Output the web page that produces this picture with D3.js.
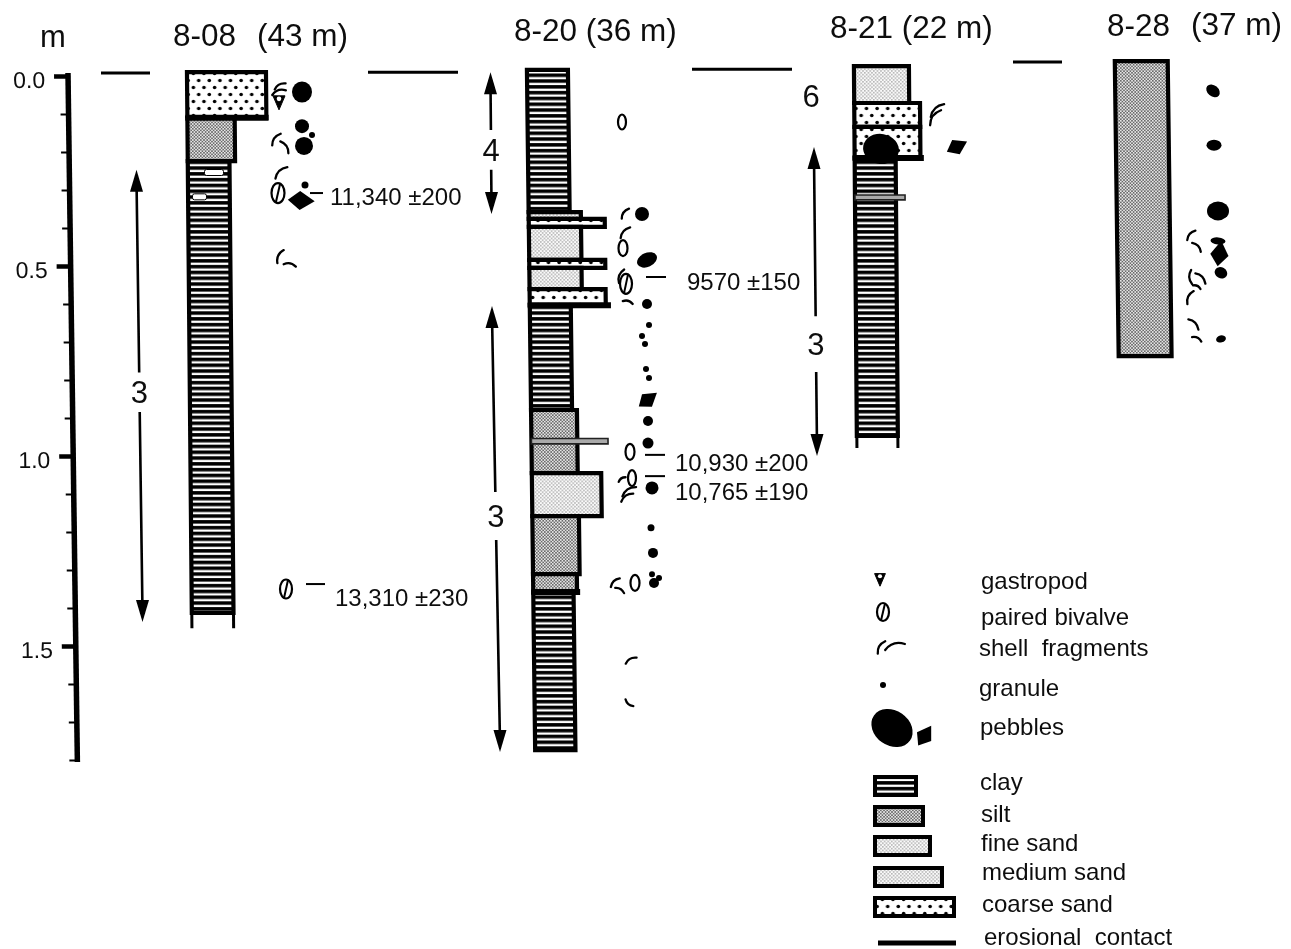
<!DOCTYPE html>
<html>
<head>
<meta charset="utf-8">
<script src="https://d3js.org/d3.v7.min.js"></script>
<style>
  html, body { margin: 0; padding: 0; background: #fff; }
  svg { display: block; }
  text { font-family: "Liberation Sans", Arial, sans-serif; fill: #111; white-space: pre; }
</style>
</head>
<body>
<svg id="chart" width="1291" height="949"></svg>
<script>
// depth ticks
const minorTicks = d3.range(0, 19).map(d => d / 10);
const majorTicks = [0, 0.5, 1, 1.5];

const columns = ["8-08", "8-20", "8-21", "8-28"];
const columnTitles = ["8-08", "(43 m)", "8-20 (36 m)", "8-21 (22 m)", "8-28", "(37 m)"];

// [column, top depth, bottom depth, lithology, grain class]
const layers = [
  ["8-08", -0.01, 0.11, "coarse", 5],
  ["8-08", 0.11, 0.224, "silt", 1.9],
  ["8-08", 0.224, 1.413, "clay", 1.1],
  ["8-20", -0.016, 0.358, "clay", 1],
  ["8-20", 0.358, 0.376, "fine", 2.6],
  ["8-20", 0.376, 0.397, "coarse", 4.75],
  ["8-20", 0.397, 0.484, "medium", 2.6],
  ["8-20", 0.484, 0.505, "coarse", 4.75],
  ["8-20", 0.505, 0.561, "fine", 2.6],
  ["8-20", 0.561, 0.603, "coarse", 4.75],
  ["8-20", 0.603, 0.879, "clay", 1],
  ["8-20", 0.879, 1.045, "silt", 1.7],
  ["8-20", 1.045, 1.158, "medium", 4.2],
  ["8-20", 1.158, 1.311, "silt", 1.8],
  ["8-20", 1.311, 1.358, "silt", 1.4],
  ["8-20", 1.358, 1.774, "clay", 0.9],
  ["8-21", -0.026, 0.071, "fine", 3],
  ["8-21", 0.071, 0.134, "coarse", 3.9],
  ["8-21", 0.134, 0.216, "coarse", 3.9],
  ["8-21", 0.216, 0.947, "clay", 1],
  ["8-28", -0.039, 0.737, "silt", 2.7]
];
const thinBands = [
  ["8-20", 0.954, 0.968, 4.8],
  ["8-21", 0.313, 0.326, 2.3]
];
// unsampled base of the core: [column, top, bottom, grain]
const openBases = [
  ["8-08", 1.413, 1.453, 1.1],
  ["8-21", 0.947, 0.979, 1]
];
// [column, depth, grain]
const erosions = [
  ["8-08", 0.11, 5.1],
  ["8-20", 0.603, 5.1],
  ["8-20", 1.358, 1.7],
  ["8-21", 0.216, 4.1]
];
// [column, depth, lateral, lateral length]
const whitePatches = [
  ["8-08", 0.254, 1.75, 1.9],
  ["8-08", 0.318, 0.55, 1.4]
];

// ground surface dashes [depth, lateral start, lateral end]
const surfaces = [
  [-0.008, 10.1, 15.0],
  [-0.01, 36.8, 45.8],
  [-0.018, 69.2, 79.2],
  [-0.037, 101.3, 106.2]
];

// [label, top, bottom, gap top, gap bottom, lateral at top, lateral at bottom]
const arrows = [
  ["3", 0.247, 1.437, 0.78, 0.884, 13.65, 14.25],
  ["4", -0.01, 0.363, 0.142, 0.247, 49.05, 49.15],
  ["3", 0.605, 1.779, 1.095, 1.221, 49.2, 50.0],
  ["3", 0.187, 1.0, 0.632, 0.779, 81.4, 81.7]
];
const lonelyLabels = [["6", 0.053, 81.1]];

// [age, dash depth, dash start, dash end, label depth, label lateral]
const dates = [
  ["11,340 ±200", 0.308, 31.0, 32.3, 0.318, 33.0],
  ["9570 ±150", 0.529, 64.6, 66.6, 0.54, 68.7],
  ["10,930 ±200", 0.997, 64.5, 66.5, 1.018, 67.5],
  ["10,765 ±190", 1.053, 64.5, 66.5, 1.092, 67.5],
  ["13,310 ±230", 1.337, 30.6, 32.5, 1.372, 33.5]
];

// [column, depth, lateral, rx, ry, rotation]
const roundPebbles = [
  ["8-08", 0.042, 11.5, 1.0, 1.05, 0],
  ["8-08", 0.132, 11.5, 0.7, 0.7, 0],
  ["8-08", 0.184, 11.7, 0.9, 0.9, 0],
  ["8-20", 0.363, 11.5, 0.7, 0.7, 0],
  ["8-20", 0.484, 12.0, 1.05, 0.7, -25],
  ["8-20", 0.908, 12.1, 0.5, 0.5, 0],
  ["8-20", 0.966, 12.1, 0.55, 0.55, 0],
  ["8-20", 1.084, 12.5, 0.65, 0.65, 0],
  ["8-20", 1.255, 12.6, 0.5, 0.5, 0],
  ["8-20", 1.334, 12.7, 0.5, 0.5, 0],
  ["8-21", 0.192, 2.7, 1.8, 1.5, 10],
  ["8-28", 0.039, 9.8, 0.75, 0.55, 40],
  ["8-28", 0.182, 9.9, 0.75, 0.55, 0],
  ["8-28", 0.355, 10.3, 1.1, 0.95, 0],
  ["8-28", 0.434, 10.3, 0.75, 0.35, 5],
  ["8-28", 0.518, 10.6, 0.65, 0.55, 30],
  ["8-28", 0.692, 10.6, 0.5, 0.35, -15]
];
// [column, depth, lateral, size, rotation]
const angularPebbles = [
  ["8-08", 0.329, 11.4, 1.25, 25],
  ["8-20", 0.853, 12.1, 1.05, -15],
  ["8-21", 0.187, 10.3, 1.05, -5],
  ["8-28", 0.468, 10.5, 1.2, -60]
];
// [column, depth, lateral, radius]
const granules = [
  ["8-08", 0.155, 12.5, 0.3],
  ["8-08", 0.287, 11.8, 0.35],
  ["8-20", 0.6, 12.0, 0.5],
  ["8-20", 0.655, 12.2, 0.3],
  ["8-20", 0.684, 11.5, 0.3],
  ["8-20", 0.705, 11.8, 0.3],
  ["8-20", 0.771, 11.9, 0.3],
  ["8-20", 0.795, 12.2, 0.3],
  ["8-20", 1.189, 12.4, 0.35],
  ["8-20", 1.311, 12.5, 0.3],
  ["8-20", 1.321, 13.2, 0.3]
];
// [column, depth, lateral, half length, rotation]
const shellFragments = [
  ["8-08", 0.026, 9.3, 0.6, -15],
  ["8-08", 0.042, 9.2, 0.7, -5],
  ["8-08", 0.166, 8.9, 0.7, -40],
  ["8-08", 0.187, 9.8, 0.7, 70],
  ["8-08", 0.253, 9.4, 0.8, -30],
  ["8-08", 0.474, 9.3, 0.7, -50],
  ["8-08", 0.497, 10.3, 0.6, 25],
  ["8-20", 0.361, 9.8, 0.6, -40],
  ["8-20", 0.411, 9.8, 0.7, -35],
  ["8-20", 0.526, 9.4, 0.7, -55],
  ["8-20", 0.595, 10.1, 0.5, 30],
  ["8-20", 1.061, 9.5, 0.4, -20],
  ["8-20", 1.092, 10.2, 0.8, -20],
  ["8-20", 1.108, 10.0, 0.7, -20],
  ["8-20", 1.332, 8.8, 0.6, -30],
  ["8-20", 1.353, 9.3, 0.5, 45],
  ["8-20", 1.537, 10.4, 0.6, -15],
  ["8-20", 1.65, 10.2, 0.5, -125],
  ["8-21", 0.089, 8.3, 0.9, -30],
  ["8-21", 0.108, 8.1, 0.9, -40],
  ["8-28", 0.418, 7.6, 0.6, -35],
  ["8-28", 0.45, 8.2, 0.6, 60],
  ["8-28", 0.529, 7.6, 0.7, -80],
  ["8-28", 0.532, 8.6, 0.7, 60],
  ["8-28", 0.555, 8.2, 0.4, 40],
  ["8-28", 0.582, 7.5, 0.7, -50],
  ["8-28", 0.653, 7.9, 0.7, 60],
  ["8-28", 0.692, 8.2, 0.5, 40]
];
// [column, depth, lateral, rx, ry]
const pairedBivalves = [
  ["8-08", 0.308, 9.1, 0.65, 1.0],
  ["8-08", 1.35, 9.9, 0.6, 0.95],
  ["8-20", 0.547, 9.9, 0.6, 1.0]
];
const singleValves = [
  ["8-20", 0.121, 9.5, 0.4, 0.75],
  ["8-20", 0.453, 9.6, 0.45, 0.8],
  ["8-20", 0.989, 10.3, 0.45, 0.8],
  ["8-20", 1.058, 10.5, 0.4, 0.8],
  ["8-20", 1.334, 10.8, 0.45, 0.8]
];
const gastropods = [["8-08", 0.068, 9.2, 1]];

const fossilLabels = ["gastropod", "paired bivalve", "shell  fragments", "granule", "pebbles"];
const lithologyLabels = ["clay", "silt", "fine sand", "medium sand", "coarse sand"];
const lithologyKeys = ["clay", "silt", "fine", "medium", "coarse"];
const lithologyGrains = [1, 2, 3, 4, 5];
const erosionLabel = "erosional  contact";

// ---- scales
const y = d3.scaleLinear().domain([0, 1.5]).range([76, 646]);
const colX = d3.scaleOrdinal().domain(columns).range([187, 527, 854, 1115]);
const colTilt = d3.scaleOrdinal().domain(columns).range([3.4, 4.6, 3.0, 5.0]);
const grainWidth = d3.scaleLinear().domain([1, 2, 3, 4, 5]).range([41, 48, 55, 67, 79]);
const lateral = d3.scaleLinear().domain([0, 10]).range([0, 100]);
const clast = d3.scaleLinear().domain([0, 1]).range([0, 10]);

const svg = d3.select("#chart");
const defs = svg.append("defs");

defs.append("filter").attr("id", "scan").attr("x", 0).attr("y", 0).attr("width", 1).attr("height", 1)
  .attr("filterUnits", "objectBoundingBox")
  .append("feGaussianBlur").attr("stdDeviation", 0.6);

// clay
const pClay = defs.append("pattern").attr("id", "clay").attr("patternUnits", "userSpaceOnUse")
  .attr("width", 10).attr("height", 5.8);
pClay.append("rect").attr("width", 10).attr("height", 5.8).attr("fill", "#000");
pClay.append("rect").attr("y", 1.6).attr("width", 10).attr("height", 2.3).attr("fill", "#fff");

// silt
const pSilt = defs.append("pattern").attr("id", "silt").attr("patternUnits", "userSpaceOnUse")
  .attr("width", 3.2).attr("height", 3.2);
pSilt.append("rect").attr("width", 3.2).attr("height", 3.2).attr("fill", "#e6e6e6");
pSilt.append("rect").attr("width", 1.6).attr("height", 1.6).attr("fill", "#6a6a6a");
pSilt.append("rect").attr("x", 1.6).attr("y", 1.6).attr("width", 1.6).attr("height", 1.6).attr("fill", "#6a6a6a");

// fine and medium sand
["fine", "medium"].forEach(id => {
  const p = defs.append("pattern").attr("id", id).attr("patternUnits", "userSpaceOnUse")
    .attr("width", 3.6).attr("height", 3.6);
  p.append("rect").attr("width", 3.6).attr("height", 3.6).attr("fill", "#fafafa");
  p.append("rect").attr("width", 1.6).attr("height", 1.6).attr("fill", "#b4b4b4");
  p.append("rect").attr("x", 1.8).attr("y", 1.8).attr("width", 1.6).attr("height", 1.6).attr("fill", "#b4b4b4");
});

// coarse sand
const pCoarse = defs.append("pattern").attr("id", "coarse").attr("patternUnits", "userSpaceOnUse")
  .attr("width", 10.6).attr("height", 14);
pCoarse.append("rect").attr("width", 10.6).attr("height", 14).attr("fill", "#fff");
pCoarse.append("circle").attr("cx", 2.6).attr("cy", 3.5).attr("r", 1.8).attr("fill", "#000");
pCoarse.append("circle").attr("cx", 7.9).attr("cy", 10.5).attr("r", 1.8).attr("fill", "#000");

const root = svg.append("g").attr("filter", "url(#scan)");
root.append("rect").attr("width", 1291).attr("height", 949).attr("fill", "#fff");

const line = d3.line();
const leftAt = (col, d) => colX(col) + colTilt(col) * d;

function block(col, top, bottom, grain) {
  const w = grainWidth(grain);
  return line([
    [leftAt(col, top), y(top)],
    [leftAt(col, top) + w, y(top)],
    [leftAt(col, bottom) + w, y(bottom)],
    [leftAt(col, bottom), y(bottom)]
  ]) + "Z";
}

// ---- depth axis, leaning like the scanned original
const axis = d3.axisLeft(y).tickValues(minorTicks).tickSizeOuter(0)
  .tickFormat(d => majorTicks.includes(d) ? d3.format(".1f")(d) : "");
const axisG = root.append("g")
  .attr("transform", "translate(67,0) skewX(0.78)")
  .call(axis);
axisG.select(".domain").remove();
axisG.append("line")
  .attr("x1", 0).attr("x2", 0)
  .attr("y1", y(0) - 3).attr("y2", y(1.8) + 2)
  .attr("stroke", "#000").attr("stroke-width", 5.5);
axisG.selectAll(".tick line")
  .attr("stroke", "#000")
  .attr("x2", d => majorTicks.includes(d) ? -14 : -8)
  .attr("stroke-width", d => majorTicks.includes(d) ? 4.5 : 2);
axisG.selectAll(".tick text")
  .attr("x", -23)
  .attr("dy", "0.5em")
  .attr("font-size", 23)
  .style("font-family", '"Liberation Sans", Arial, sans-serif');

// ---- titles
const titleX = d3.scaleOrdinal().domain(columnTitles).range([173, 257, 514, 830, 1107, 1191]);
const titleY = d3.scaleOrdinal().domain(columnTitles).range([46, 46, 41, 38, 36, 35]);
root.selectAll("text.title").data(columnTitles).join("text")
  .attr("class", "title")
  .attr("x", d => titleX(d)).attr("y", d => titleY(d))
  .attr("font-size", 31.5).text(d => d);
root.append("text").attr("x", 53).attr("y", 47).attr("text-anchor", "middle")
  .attr("font-size", 31).text("m");

// ---- ground surface dashes
root.selectAll("line.surface").data(surfaces).join("line")
  .attr("class", "surface")
  .attr("x1", d => lateral(d[1])).attr("x2", d => lateral(d[2]))
  .attr("y1", d => y(d[0])).attr("y2", d => y(d[0]))
  .attr("stroke", "#000").attr("stroke-width", 3);

// ---- core logs
root.selectAll("path.open").data(openBases).join("path")
  .attr("class", "open")
  .attr("d", d => {
    const w = grainWidth(d[3]);
    return line([[leftAt(d[0], d[1]), y(d[1])], [leftAt(d[0], d[2]), y(d[2])]]) +
      line([[leftAt(d[0], d[1]) + w, y(d[1])], [leftAt(d[0], d[2]) + w, y(d[2])]]);
  })
  .attr("fill", "none").attr("stroke", "#000").attr("stroke-width", 3);

root.selectAll("path.layer").data(layers).join("path")
  .attr("class", "layer")
  .attr("d", d => block(d[0], d[1], d[2], d[4]))
  .attr("fill", d => `url(#${d[3]})`)
  .attr("stroke", "#000").attr("stroke-width", 4.2);

root.selectAll("path.band").data(thinBands).join("path")
  .attr("class", "band")
  .attr("d", d => block(d[0], d[1], d[2], d[3]))
  .attr("fill", "#aaa").attr("stroke", "#222").attr("stroke-width", 1.6);

root.selectAll("rect.patch").data(whitePatches).join("rect")
  .attr("class", "patch")
  .attr("x", d => colX(d[0]) + lateral(d[2])).attr("y", d => y(d[1]) - 3)
  .attr("width", d => lateral(d[3])).attr("height", 6).attr("rx", 2)
  .attr("fill", "#fff").attr("stroke", "#000").attr("stroke-width", 1);

root.selectAll("line.erosion").data(erosions).join("line")
  .attr("class", "erosion")
  .attr("x1", d => leftAt(d[0], d[1]) - 2)
  .attr("x2", d => leftAt(d[0], d[1]) + grainWidth(d[2]) + 1)
  .attr("y1", d => y(d[1])).attr("y2", d => y(d[1]))
  .attr("stroke", "#000").attr("stroke-width", 6);

// ---- unit arrows
function arrowHead(x, yy, dir) {
  return line([[x, yy], [x - 6.5, yy - dir * 22], [x + 6.5, yy - dir * 22]]) + "Z";
}
arrows.forEach(a => {
  const [label, top, bottom, gapTop, gapBottom, xTop, xBottom] = a;
  const xAt = d3.scaleLinear().domain([top, bottom]).range([lateral(xTop), lateral(xBottom)]);
  root.append("path")
    .attr("d", line([[xAt(top), y(top) + 10], [xAt(gapTop), y(gapTop)]]) +
      line([[xAt(gapBottom), y(gapBottom)], [xAt(bottom), y(bottom) - 10]]))
    .attr("stroke", "#000").attr("stroke-width", 2.6).attr("fill", "none");
  root.append("path").attr("d", arrowHead(xAt(top), y(top), -1)).attr("fill", "#000");
  root.append("path").attr("d", arrowHead(xAt(bottom), y(bottom), 1)).attr("fill", "#000");
  root.append("text")
    .attr("x", xAt((gapTop + gapBottom) / 2)).attr("y", y((gapTop + gapBottom) / 2))
    .attr("dy", "0.36em").attr("text-anchor", "middle")
    .attr("font-size", 31).text(label);
});
root.selectAll("text.lonely").data(lonelyLabels).join("text")
  .attr("class", "lonely")
  .attr("x", d => lateral(d[2])).attr("y", d => y(d[1]))
  .attr("dy", "0.36em").attr("text-anchor", "middle")
  .attr("font-size", 31).text(d => d[0]);

// ---- radiocarbon ages
root.selectAll("line.dash").data(dates).join("line")
  .attr("class", "dash")
  .attr("x1", d => lateral(d[2])).attr("x2", d => lateral(d[3]))
  .attr("y1", d => y(d[1])).attr("y2", d => y(d[1]))
  .attr("stroke", "#000").attr("stroke-width", 2);
root.selectAll("text.age").data(dates).join("text")
  .attr("class", "age")
  .attr("x", d => lateral(d[5])).attr("y", d => y(d[4]))
  .attr("dy", "0.36em")
  .attr("font-size", 24).text(d => d[0]);

// ---- fossil and clast glyphs
const blob = root.append("g");
function drawRound(x, yy, rx, ry, rot) {
  blob.append("ellipse")
    .attr("rx", rx).attr("ry", ry).attr("fill", "#000")
    .attr("transform", `translate(${x},${yy}) rotate(${rot})`);
}
function drawAngular(x, yy, s, rot) {
  blob.append("path")
    .attr("d", line([[-s, 0.35 * s], [-0.4 * s, -0.7 * s], [s, -0.45 * s], [0.2 * s, 0.7 * s]]) + "Z")
    .attr("fill", "#000")
    .attr("transform", `translate(${x},${yy}) rotate(${rot})`);
}
function drawArc(x, yy, s, rot) {
  blob.append("path")
    .attr("d", `M${-s},${0.35 * s}Q${-0.2 * s},${-0.6 * s} ${s},${-0.15 * s}`)
    .attr("fill", "none").attr("stroke", "#000").attr("stroke-width", 2.3).attr("stroke-linecap", "round")
    .attr("transform", `translate(${x},${yy}) rotate(${rot})`);
}
function drawValve(x, yy, rx, ry, slash) {
  blob.append("ellipse").attr("cx", x).attr("cy", yy).attr("rx", rx).attr("ry", ry)
    .attr("fill", "#fff").attr("stroke", "#000").attr("stroke-width", 2.2);
  if (slash) {
    blob.append("path").attr("d", line([[x + rx * 0.35, yy - ry], [x - rx * 0.35, yy + ry]]))
      .attr("stroke", "#000").attr("stroke-width", 2);
  }
}
function drawGastropod(x, yy, s) {
  blob.append("path")
    .attr("d", line([[x - 6 * s, yy - 6 * s], [x + 6 * s, yy - 6 * s], [x, yy + 8 * s]]) + "Z")
    .attr("fill", "#000").attr("stroke", "#000").attr("stroke-linejoin", "round");
  blob.append("circle").attr("cx", x).attr("cy", yy - 3 * s).attr("r", 2.3 * s).attr("fill", "#fff");
}

const at = (col, lat) => colX(col) + lateral(lat);
roundPebbles.forEach(d => drawRound(at(d[0], d[2]), y(d[1]), clast(d[3]), clast(d[4]), d[5]));
angularPebbles.forEach(d => drawAngular(at(d[0], d[2]), y(d[1]), clast(d[3]), d[4]));
granules.forEach(d => drawRound(at(d[0], d[2]), y(d[1]), clast(d[3]), clast(d[3]), 0));
shellFragments.forEach(d => drawArc(at(d[0], d[2]), y(d[1]), clast(d[3]), d[4]));
pairedBivalves.forEach(d => drawValve(at(d[0], d[2]), y(d[1]), clast(d[3]), clast(d[4]), true));
singleValves.forEach(d => drawValve(at(d[0], d[2]), y(d[1]), clast(d[3]), clast(d[4]), false));
gastropods.forEach(d => drawGastropod(at(d[0], d[2]), y(d[1]), d[3]));

// ---- legend
const legendLabelX = d3.scaleOrdinal()
  .domain([...fossilLabels, ...lithologyLabels, erosionLabel])
  .range([981, 981, 979, 979, 980, 980, 981, 981, 982, 982, 984]);
const legendLabelY = d3.scaleOrdinal()
  .domain([...fossilLabels, ...lithologyLabels, erosionLabel])
  .range([589, 625, 656, 696, 735, 790, 822, 851, 880, 912, 945]);
root.selectAll("text.legend").data([...fossilLabels, ...lithologyLabels, erosionLabel]).join("text")
  .attr("class", "legend")
  .attr("x", d => legendLabelX(d)).attr("y", d => legendLabelY(d))
  .attr("font-size", 24).text(d => d);

drawGastropod(880, 579, 0.9);
drawValve(883, 612, 6, 9, true);
drawArc(881, 647, 7, -45);
drawArc(895, 646, 10, -3);
drawRound(883, 685, 3, 3, 0);
drawRound(892, 728, 22, 17.5, 35);
drawAngular(925, 736, 11, -35);

const swatchY = d3.scaleOrdinal().domain(lithologyKeys).range([777, 807, 837, 868, 898]);
root.selectAll("rect.swatch").data(lithologyKeys).join("rect")
  .attr("class", "swatch")
  .attr("x", 875).attr("y", d => swatchY(d))
  .attr("width", (d, i) => grainWidth(lithologyGrains[i]))
  .attr("height", 18)
  .attr("fill", d => `url(#${d})`)
  .attr("stroke", "#000").attr("stroke-width", 4);
root.append("line")
  .attr("x1", 878).attr("x2", 956).attr("y1", 943).attr("y2", 943)
  .attr("stroke", "#000").attr("stroke-width", 5);
</script>
</body>
</html>
